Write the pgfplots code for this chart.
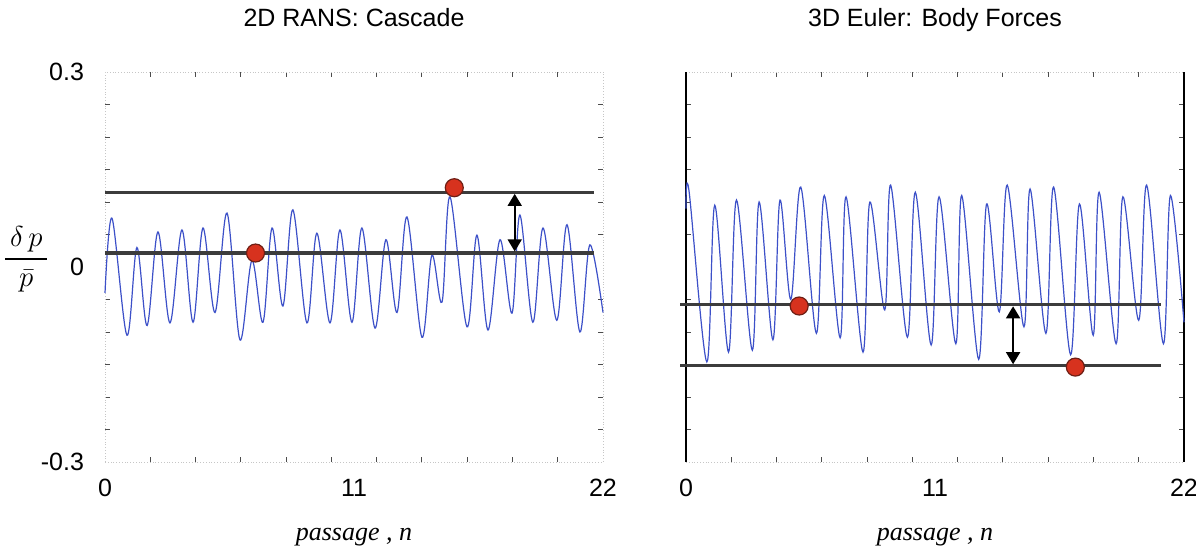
\documentclass[border=0pt]{standalone}
\usepackage{amsmath}
\usepackage{pgfplots}
\pgfplotsset{compat=1.18}
\usetikzlibrary{arrows.meta}
\usepackage{fontspec}
\setmainfont{Liberation Sans}
\newfontfamily\labelfont{Liberation Serif}
\definecolor{wavecol}{RGB}{60,80,200}
\definecolor{levelcol}{RGB}{60,60,60}
\definecolor{dotred}{RGB}{215,50,30}
\definecolor{dotedge}{RGB}{110,30,20}

\pgfplotsset{
  panel/.style={
    scale only axis, width=249pt, height=195pt,
    xmin=0, xmax=22, ymin=-0.3, ymax=0.3,
    xtick={0,11,22}, xticklabels={0,11,22},
    minor xtick={2,4,...,20},
    ytick={-0.3,0,0.3},
    minor y tick num=5,
    major tick length=0pt, minor tick length=2.5pt,
    tick style={black!70, line width=0.5pt},
    ticklabel style={font=\fontsize{12.5}{14}\selectfont},
    xticklabel style={yshift=-5pt},
    xlabel={\labelfont\itshape passage , n},
    xlabel style={font=\fontsize{13}{15}\selectfont, at={(axis description cs:0.5,0)}, anchor=base, yshift=-39pt},
    title style={font=\fontsize{12.5}{14}\selectfont, at={(axis description cs:0.5,1)}, anchor=base, yshift=17pt},
    clip=false,
  },
  hline/.style={levelcol, line width=1.6pt},
  wavecurve/.style={wavecol, line width=0.6pt, smooth, tension=0.55},
  reddot/.style={only marks, mark=*, mark size=4.5pt, mark options={fill=dotred, draw=dotedge, line width=0.6pt}},
  gap/.style={black, line width=0.8pt, shorten <=0.8pt, shorten >=0.8pt,
    {Triangle[width=7pt,length=6pt]}-{Triangle[width=7pt,length=6pt]}},
}

\begin{document}
\begin{tikzpicture}
\useasboundingbox (0,0) rectangle (598pt,274pt);

% left: 2D RANS cascade
\begin{axis}[panel, at={(52.5pt,43pt)}, anchor=south west,
    title={2D RANS: Cascade},
    yticklabels={-0.3,0,0.3},
    yticklabel style={xshift=-7pt},
    axis line style={gray!45, densely dotted},
    ylabel={$\dfrac{\,\delta\,p\,}{\bar{p}}$},
    ylabel style={rotate=-90, at={(axis description cs:-0.158,0.52)}, anchor=center, font=\fontsize{15}{17}\selectfont},
]
\addplot[wavecurve] coordinates {
  (0,-0.04) (0.31,0.075) (0.97,-0.105) (1.41,0.03) (1.86,-0.09) (2.34,0.054)
  (2.87,-0.086) (3.40,0.057) (3.89,-0.085) (4.33,0.06) (4.86,-0.07) (5.39,0.083)
  (5.96,-0.112) (6.49,0.01) (6.98,-0.085) (7.38,0.06) (7.86,-0.06) (8.30,0.088)
  (8.92,-0.086) (9.36,0.052) (9.94,-0.086) (10.38,0.057) (10.91,-0.085) (11.35,0.06)
  (11.93,-0.094) (12.41,0.042) (12.90,-0.07) (13.34,0.077) (14.00,-0.108) (14.44,0.018)
  (14.89,-0.054) (15.24,0.108) (15.99,-0.092) (16.43,0.049) (16.92,-0.097) (17.45,0.042)
  (17.98,-0.071) (18.33,0.08) (18.90,-0.085) (19.35,0.06) (19.96,-0.082) (20.41,0.065)
  (20.98,-0.1) (21.42,0.034) (22,-0.07)
};
\addplot[hline] coordinates {(0,0.115) (21.6,0.115)};
\addplot[hline] coordinates {(0,0.0215) (21.6,0.0215)};
\addplot[gap] coordinates {(18.1,0.0215) (18.1,0.115)};
\addplot[reddot] coordinates {(6.65,0.0215) (15.43,0.122)};
\end{axis}

% right: 3D Euler body forces
\begin{axis}[panel, at={(343pt,43pt)}, anchor=south west,
    title={3D Euler: Body Forces},
    yticklabels={},
    separate axis lines,
    x axis line style={gray!45, densely dotted},
    y axis line style={black, line width=0.6pt},
]
\addplot[wavecurve] coordinates {
  (0,0.09) (0.13,0.118) (0.92,-0.146) (1.27,0.095) (1.88,-0.131) (2.23,0.103)
  (2.93,-0.128) (3.23,0.1) (3.84,-0.112) (4.15,0.103) (4.63,-0.05) (5.07,0.123)
  (5.76,-0.102) (6.11,0.11) (6.81,-0.109) (7.07,0.108) (7.82,-0.131) (8.12,0.1)
  (8.78,-0.066) (9.04,0.126) (9.78,-0.108) (10.13,0.115) (10.83,-0.12) (11.18,0.108)
  (11.92,-0.118) (12.18,0.11) (12.93,-0.142) (13.28,0.097) (13.84,-0.069) (14.19,0.126)
  (14.93,-0.092) (15.20,0.12) (15.90,-0.102) (16.24,0.123) (16.99,-0.135) (17.38,0.097)
  (17.99,-0.105) (18.25,0.115) (19.00,-0.118) (19.30,0.108) (20.00,-0.082) (20.35,0.126)
  (21.09,-0.118) (21.40,0.11) (22,-0.085)
};
\addplot[hline] coordinates {(-0.26,-0.058) (21.0,-0.058)};
\addplot[hline] coordinates {(-0.26,-0.152) (21.0,-0.152)};
\addplot[gap] coordinates {(14.45,-0.152) (14.45,-0.058)};
\addplot[reddot] coordinates {(5.0,-0.060) (17.2,-0.154)};
\end{axis}
\end{tikzpicture}
\end{document}
